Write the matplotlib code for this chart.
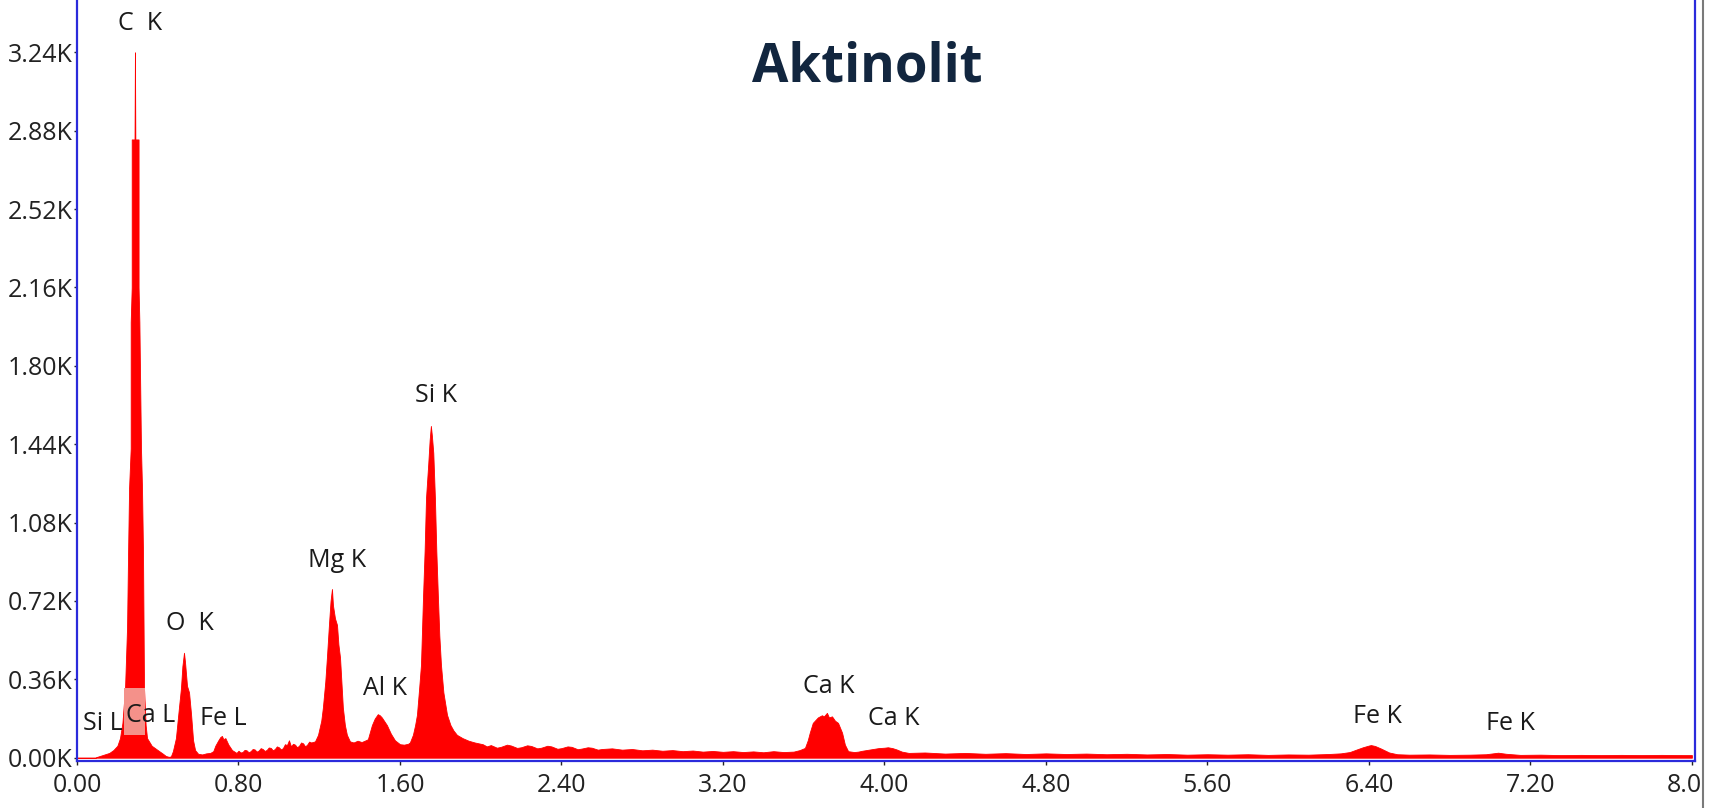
#! /usr/bin/env python3

# EDS spectrum of Aktinolit, counts vs energy (keV).

import matplotlib
matplotlib.use('Agg')
import matplotlib.pyplot as plt
from matplotlib.patches import Rectangle
from matplotlib.lines import Line2D

# energy (keV) and counts
energy = [
    0.00, 0.05, 0.09, 0.10, 0.12, 0.14, 0.16, 0.18, 0.20, 0.213, 0.225, 0.238,
    0.248, 0.253, 0.258, 0.266, 0.266, 0.271, 0.271, 0.285, 0.287, 0.289,
    0.305, 0.305, 0.309, 0.317, 0.322, 0.327, 0.332, 0.34, 0.347, 0.37, 0.40,
    0.426, 0.44, 0.455,
    # O K
    0.465, 0.475, 0.49, 0.505, 0.515, 0.522, 0.53, 0.535, 0.545, 0.555, 0.565,
    0.575, 0.585, 0.60, 0.62, 0.64, 0.66, 0.675,
    # Fe L
    0.685, 0.70, 0.71, 0.718, 0.725, 0.735, 0.75, 0.768,
    0.78, 0.79, 0.80, 0.81, 0.82, 0.83, 0.84, 0.85, 0.86, 0.87, 0.88, 0.89,
    0.90, 0.91, 0.92, 0.93, 0.94, 0.95, 0.96, 0.97, 0.98, 0.99, 1.00, 1.01,
    1.02, 1.03, 1.04, 1.05, 1.06, 1.07, 1.08, 1.09, 1.10, 1.11, 1.12, 1.13,
    1.14, 1.15, 1.16,
    # Mg K
    1.179, 1.194, 1.21, 1.218, 1.23, 1.238, 1.248, 1.256, 1.263, 1.268, 1.278,
    1.288, 1.295, 1.303, 1.317, 1.327, 1.337, 1.352, 1.37, 1.39, 1.41, 1.43,
    # Al K
    1.441, 1.461, 1.475, 1.49, 1.50, 1.51, 1.535, 1.555, 1.575, 1.60, 1.62, 1.64,
    # Si K
    1.649, 1.664, 1.675, 1.684, 1.695, 1.704, 1.714, 1.722, 1.729, 1.74, 1.747,
    1.753, 1.758, 1.765, 1.773, 1.78, 1.788, 1.795, 1.803, 1.815, 1.833, 1.85,
    1.865, 1.882, 1.91, 1.94, 1.97, 2.01,
    2.03, 2.05, 2.08, 2.10, 2.13, 2.15, 2.18, 2.20, 2.23, 2.25, 2.28, 2.30,
    2.33, 2.35, 2.38, 2.40, 2.43, 2.45, 2.48, 2.50, 2.53, 2.55, 2.58, 2.60,
    2.65, 2.70, 2.75, 2.80, 2.85, 2.90, 2.95, 3.00, 3.05, 3.10, 3.15, 3.20,
    3.25, 3.30, 3.35, 3.40, 3.45, 3.50, 3.55, 3.58,
    # Ca K
    3.606, 3.62, 3.63, 3.645, 3.67, 3.69, 3.70, 3.715, 3.725, 3.74, 3.755,
    3.77, 3.79, 3.804, 3.82, 3.85, 3.87,
    3.89, 3.93, 3.97, 4.00, 4.017, 4.04, 4.06, 4.086, 4.12,
    4.2, 4.3, 4.4, 4.5, 4.6, 4.7, 4.8, 4.9, 5.0, 5.1, 5.2, 5.3, 5.4, 5.5,
    5.6, 5.7, 5.8, 5.9, 6.0, 6.1, 6.2, 6.26,
    # Fe K
    6.305, 6.34, 6.37, 6.40, 6.41, 6.43, 6.46, 6.50, 6.54,
    6.6, 6.7, 6.8, 6.9, 6.98, 7.04, 7.08, 7.15, 7.25, 7.35, 7.45, 7.55,
    7.65, 7.75, 7.85, 7.95, 8.0,
]
counts = [
    0, 0, 0, 4, 10, 16, 22, 35, 55, 90, 160, 320,
    600, 940, 1240, 1420, 2000, 2160, 2840, 2840, 3240, 2840,
    2840, 2160, 2000, 1420, 1240, 940, 320, 150, 90, 55, 35,
    18, 8, 4,
    6, 30, 90, 230, 320, 420, 482, 440, 330, 300, 200,
    80, 35, 18, 15, 20, 22, 30,
    55, 80, 95, 100, 85, 90, 60, 35,
    28, 22, 32, 24, 26, 36, 34, 25, 30, 40, 38, 28,
    33, 44, 40, 31, 36, 47, 45, 34, 40, 52, 48, 38,
    44, 62, 58, 80, 52, 64, 60, 48, 55, 70, 66, 52,
    60, 74, 70,
    75, 105, 170, 230, 350, 460, 610, 720, 775, 700, 640,
    610, 520, 460, 230, 150, 105, 75, 70, 78, 72, 80,
    85, 150, 180, 200, 195, 185, 150, 110, 80, 62, 60, 64,
    70, 105, 150, 197, 320, 427, 735, 950, 1194, 1350, 1460,
    1524, 1480, 1400, 1194, 950, 735, 560, 427, 300, 197, 150,
    125, 105, 90, 78, 70, 62,
    52, 58, 46, 50, 60, 56, 45, 48, 57, 54, 43, 46,
    55, 52, 41, 44, 52, 50, 39, 42, 48, 46, 37, 40,
    43, 37, 40, 34, 37, 32, 35, 30, 33, 28, 31, 27,
    30, 26, 29, 25, 30, 26, 28, 35,
    45, 80, 115, 160, 185, 195, 190, 206, 185, 190, 170,
    160, 115, 60, 30, 26, 28,
    32, 38, 44, 46, 48, 44, 38, 28, 22,
    24, 19, 22, 18, 21, 17, 20, 17, 19, 16, 18, 15, 17, 14,
    16, 14, 16, 13, 15, 14, 17, 20,
    26, 38, 48, 56, 58, 54, 42, 24, 16,
    14, 15, 13, 14, 16, 23, 18, 13, 14, 12, 13, 12,
    13, 12, 13, 12, 12,
]

x_ticks = [0.0, 0.8, 1.6, 2.4, 3.2, 4.0, 4.8, 5.6, 6.4, 7.2, 8.0]
x_tick_labels = ['0.00', '0.80', '1.60', '2.40', '3.20', '4.00', '4.80',
                 '5.60', '6.40', '7.20', '8.00']
y_ticks = [0, 360, 720, 1080, 1440, 1800, 2160, 2520, 2880, 3240]
y_tick_labels = ['0.00K', '0.36K', '0.72K', '1.08K', '1.44K', '1.80K',
                 '2.16K', '2.52K', '2.88K', '3.24K']

# peak labels: text, energy, counts
peak_names = ['C  K', 'Si L', 'Ca L', 'O  K', 'Fe L', 'Mg K', 'Al K', 'Si K',
              'Ca K', 'Ca K', 'Fe K', 'Fe K']
peak_x = [0.312, 0.129, 0.367, 0.560, 0.723, 1.288, 1.525, 1.778,
          3.725, 4.047, 6.44, 7.10]
peak_y = [3373, 155, 196, 618, 182, 907, 320, 1665,
          325, 182, 187, 159]


def spectrum_plot():
    plt.rcParams['font.family'] = ['Open Sans', 'DejaVu Sans']
    fig = plt.figure(figsize=(17.15, 8.08), dpi=100)
    ax = fig.add_axes([0.0449, 0.0582, 0.9434, 0.974])

    ax.fill_between(energy, counts, 0, color='#ff0000', linewidth=0.6,
                    edgecolor='#ff0000')

    # pink highlight box behind the Ca L label
    ax.add_patch(Rectangle((0.232, 104), 0.103, 216, facecolor='#f4918a',
                           edgecolor='none', zorder=3))

    ax.set_xlim(0, 8.015)
    ax.set_ylim(-15, 3600)

    ax.set_xticks(x_ticks)
    ax.set_xticklabels(x_tick_labels)
    ax.set_yticks(y_ticks)
    ax.set_yticklabels(y_tick_labels)
    ax.tick_params(axis='x', labelsize=18, length=3, width=1, pad=6,
                   colors='#222222')
    ax.tick_params(axis='y', labelsize=18, length=2, width=1, pad=1,
                   colors='#222222')

    blue = '#2b2bdb'
    for side in ['left', 'bottom', 'right']:
        ax.spines[side].set_color(blue)
        ax.spines[side].set_linewidth(1.6)
    ax.spines['top'].set_visible(False)

    for name, px, py in zip(peak_names, peak_x, peak_y):
        ax.text(px, py, name, ha='center', va='center', fontsize=18,
                color='#1a1a1a', zorder=5)

    fig.text(0.506, 0.916, 'Aktinolit', ha='center', va='center',
             fontsize=38, fontweight='bold', color='#12263f')

    # screenshot edge on the right
    fig.patches.append(Rectangle((1703 / 1715, 0), 1 - 1703 / 1715, 1,
                                 transform=fig.transFigure, facecolor='white',
                                 edgecolor='none', zorder=10))
    fig.lines.append(Line2D([1703 / 1715, 1703 / 1715], [0, 1],
                            transform=fig.transFigure, color='#7a7a7a',
                            linewidth=1.5, zorder=11))

    fig.savefig('out.png', dpi=100)


def main():
    spectrum_plot()


if __name__ == "__main__":
    main()
